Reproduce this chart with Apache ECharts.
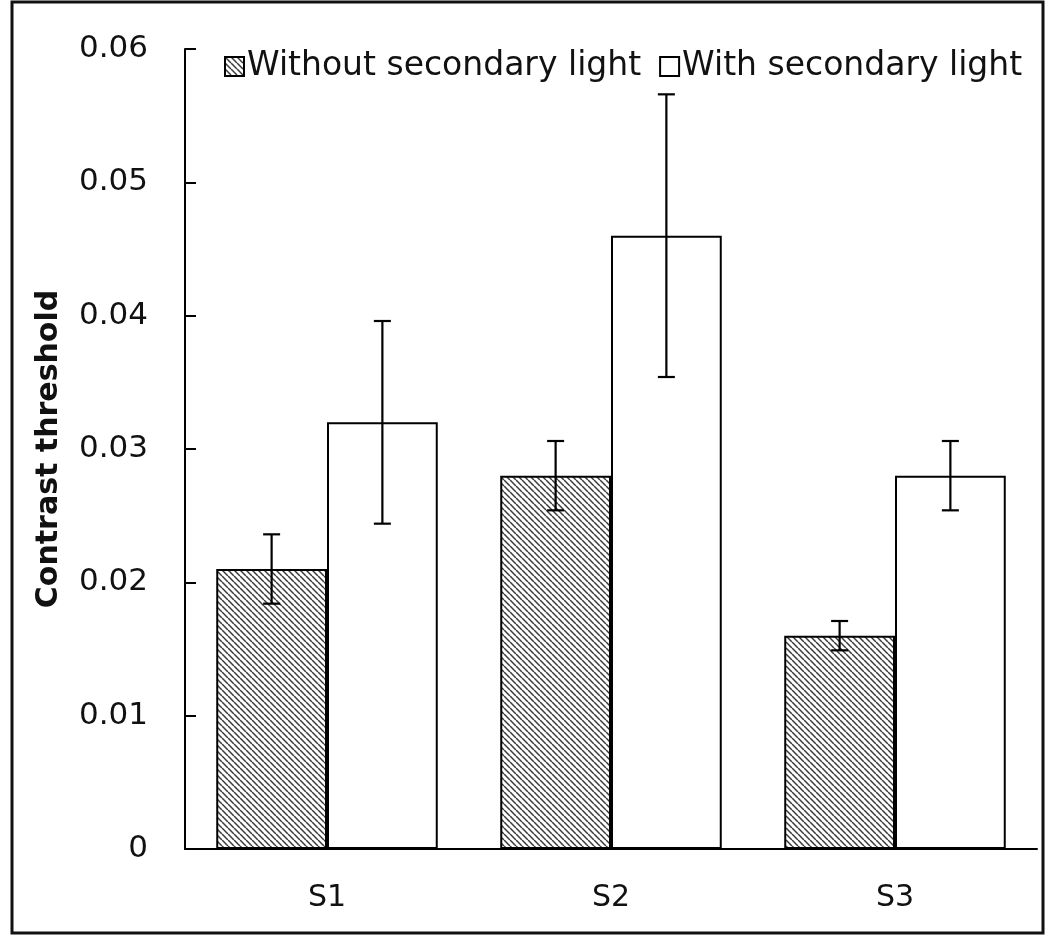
<!DOCTYPE html>
<html>
<head>
<meta charset="utf-8">
<script src="https://cdn.jsdelivr.net/npm/echarts@6/dist/echarts.min.js"></script>
<style>
html,body{margin:0;padding:0;background:#fff;}
#chart{width:1050px;height:939px;}
</style>
</head>
<body>
<div id="chart"></div>
<script>
const categories = ['S1', 'S2', 'S3'];
const seriesNames = ['Without secondary light', 'With secondary light'];
const withoutValues = [0.021, 0.028, 0.016];
const withoutErrors = [0.0026, 0.0026, 0.0011];
const withValues = [0.032, 0.046, 0.028];
const withErrors = [0.0076, 0.0106, 0.0026];
const yTicks = [0, 0.01, 0.02, 0.03, 0.04, 0.05, 0.06];

const FONT = '"DejaVu Sans", "Open Sans", sans-serif';

function hatchPattern() {
  const c = document.createElement('canvas');
  const s = 6;
  c.width = s; c.height = s;
  const ctx = c.getContext('2d');
  ctx.fillStyle = '#ffffff';
  ctx.fillRect(0, 0, s, s);
  ctx.strokeStyle = '#3a3a3a';
  ctx.lineWidth = 1.5;
  for (const k of [-s, 0, s]) {
    ctx.beginPath();
    ctx.moveTo(k, 0);
    ctx.lineTo(k + s, s);
    ctx.stroke();
  }
  return c;
}
const hatch = { image: hatchPattern(), repeat: 'repeat' };

const CAT_GAP = 0.22;

function errorSeries(idx, values, errors) {
  return {
    type: 'custom',
    name: 'err' + idx,
    silent: true,
    z: 10,
    data: values.map((v, i) => [i, v - errors[i], v + errors[i]]),
    renderItem: function (params, api) {
      const cat = api.value(0);
      const lo = api.coord([cat, api.value(1)]);
      const hi = api.coord([cat, api.value(2)]);
      const band = api.size([1, 0])[0];
      const barW = band * (1 - CAT_GAP) / 2;
      const x = lo[0] - band * (1 - CAT_GAP) / 2 + barW * (idx + 0.5);
      const cap = 8.5;
      const style = { stroke: '#000', lineWidth: 2.2, fill: null };
      return {
        type: 'group',
        children: [
          { type: 'line', shape: { x1: x, y1: lo[1], x2: x, y2: hi[1] }, style: style },
          { type: 'line', shape: { x1: x - cap, y1: lo[1], x2: x + cap, y2: lo[1] }, style: style },
          { type: 'line', shape: { x1: x - cap, y1: hi[1], x2: x + cap, y2: hi[1] }, style: style }
        ]
      };
    }
  };
}

const chart = echarts.init(document.getElementById('chart'), null, { renderer: 'canvas' });
chart.setOption({
  animation: false,
  backgroundColor: '#ffffff',
  grid: { left: 185, right: 13, top: 49, bottom: 90, containLabel: false },
  legend: {
    left: 219,
    top: 45,
    itemWidth: 19,
    itemHeight: 19,
    itemGap: 18,
    icon: 'rect',
    textStyle: { fontFamily: FONT, fontSize: 33, color: '#111', padding: [0, 0, 0, -2] },
    data: [
      { name: seriesNames[0], itemStyle: { color: hatch, borderColor: '#000', borderWidth: 2 } },
      { name: seriesNames[1], itemStyle: { color: '#fff', borderColor: '#000', borderWidth: 2 } }
    ]
  },
  xAxis: {
    type: 'category',
    data: categories,
    axisLine: { show: true, lineStyle: { color: '#000', width: 2 } },
    axisTick: { show: false },
    axisLabel: { fontFamily: FONT, fontSize: 30, color: '#111', margin: 34 },
    splitLine: { show: false }
  },
  yAxis: {
    type: 'value',
    min: 0,
    max: 0.06,
    interval: 0.01,
    name: 'Contrast threshold',
    nameLocation: 'middle',
    nameGap: 121,
    nameTextStyle: { fontFamily: FONT, fontSize: 30, fontWeight: 'bold', color: '#111' },
    axisLine: { show: true, lineStyle: { color: '#000', width: 2 } },
    axisTick: { show: true, inside: true, length: 11, lineStyle: { color: '#000', width: 2 } },
    axisLabel: {
      fontFamily: FONT, fontSize: 31, color: '#111', margin: 37,
      formatter: function (v) {
        const t = yTicks.find(x => Math.abs(x - v) < 1e-9);
        const val = t === undefined ? v : t;
        return val === 0 ? '0' : val.toFixed(2);
      }
    },
    splitLine: { show: false }
  },
  series: [
    {
      name: seriesNames[0],
      type: 'bar',
      data: withoutValues,
      barGap: '0%',
      barCategoryGap: (CAT_GAP * 100) + '%',
      itemStyle: { color: hatch, borderColor: '#000', borderWidth: 2 }
    },
    {
      name: seriesNames[1],
      type: 'bar',
      data: withValues,
      barGap: '0%',
      barCategoryGap: (CAT_GAP * 100) + '%',
      itemStyle: { color: '#fff', borderColor: '#000', borderWidth: 2 }
    },
    errorSeries(0, withoutValues, withoutErrors),
    errorSeries(1, withValues, withErrors)
  ],
  graphic: [
    {
      type: 'rect',
      shape: { x: 12, y: 2, width: 1031, height: 931 },
      style: { fill: null, stroke: '#111', lineWidth: 3 },
      silent: true,
      z: 100
    }
  ]
});
</script>
</body>
</html>
